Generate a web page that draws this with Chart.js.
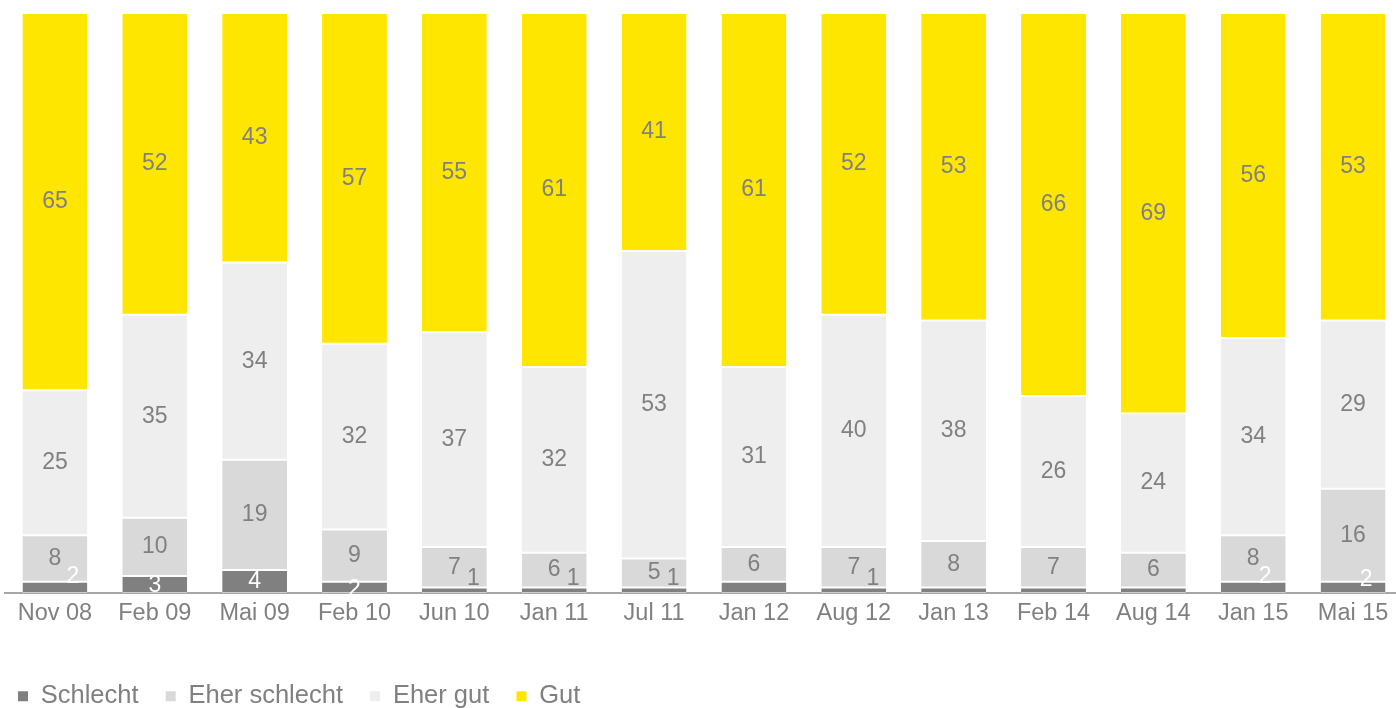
<!DOCTYPE html>
<html>
<head>
<meta charset="utf-8">
<script src="https://cdn.jsdelivr.net/npm/chart.js@4.4.1/dist/chart.umd.min.js"></script>
<style>
  html, body { margin: 0; padding: 0; background: #fff; overflow: hidden; }
  #wrap { width: 1396px; height: 708px; overflow: hidden; }
</style>
</head>
<body>
<div id="wrap"><canvas id="chart" width="1410" height="719"></canvas></div>
<script>
// Data (percent)
const categories = ['Nov 08', 'Feb 09', 'Mai 09', 'Feb 10', 'Jun 10', 'Jan 11', 'Jul 11',
                    'Jan 12', 'Aug 12', 'Jan 13', 'Feb 14', 'Aug 14', 'Jan 15', 'Mai 15'];
const schlecht     = [2, 3, 4, 2, 1, 1, 1, 2, 1, 1, 1, 1, 2, 2];
const eherSchlecht = [8, 10, 19, 9, 7, 6, 5, 6, 7, 8, 7, 6, 8, 16];
const eherGut      = [25, 35, 34, 32, 37, 32, 53, 31, 40, 38, 26, 24, 34, 29];
const gut          = [65, 52, 43, 57, 55, 61, 41, 61, 52, 53, 66, 69, 56, 53];

const GREY_TEXT = '#808080';
const FONT = '"Liberation Sans", Arial, sans-serif';

// Label tweaks for the small "Schlecht" segments (as in the original slide)
const schlechtLabelStyle = {
  'Nov 08': { dx: 18, dy: -11, color: '#fff' },
  'Feb 09': { dx: 0, dy: 1, color: '#fff' },
  'Mai 09': { dx: 0, dy: 0, color: '#fff' },
  'Feb 10': { dx: 0, dy: 2, color: '#fff' },
  'Jun 10': { dx: 19, dy: -12, color: GREY_TEXT },
  'Jan 11': { dx: 19, dy: -12, color: GREY_TEXT },
  'Jul 11': { dx: 19, dy: -12, color: GREY_TEXT },
  'Aug 12': { dx: 19, dy: -12, color: GREY_TEXT },
  'Jan 15': { dx: 12, dy: -11, color: '#fff' },
  'Mai 15': { dx: 13, dy: -8, color: '#fff' }
};

function makeSet(label, data, color) {
  return {
    label: label,
    data: data,
    backgroundColor: color,
    borderColor: '#ffffff',
    borderWidth: { top: 1, bottom: 1, left: 0, right: 0 },
    borderSkipped: false,
    barPercentage: 0.65,
    categoryPercentage: 1
  };
}

const barLabels = {
  id: 'barLabels',
  afterDatasetsDraw(chart) {
    const ctx = chart.ctx;
    ctx.save();
    ctx.font = '23px ' + FONT;
    ctx.textAlign = 'center';
    ctx.textBaseline = 'middle';
    chart.data.datasets.forEach((ds, di) => {
      const meta = chart.getDatasetMeta(di);
      meta.data.forEach((bar, i) => {
        const v = ds.data[i];
        let x = bar.x;
        let y = (bar.y + bar.base) / 2;
        let color = GREY_TEXT;
        if (di === 0) {
          const st = schlechtLabelStyle[categories[i]];
          if (!st) return;
          x += st.dx; y += st.dy; color = st.color;
        }
        ctx.fillStyle = color;
        ctx.fillText(String(v), x, y);
      });
    });
    ctx.restore();
  }
};

new Chart(document.getElementById('chart'), {
  type: 'bar',
  data: {
    labels: categories,
    datasets: [
      makeSet('Schlecht', schlecht, '#808080'),
      makeSet('Eher schlecht', eherSchlecht, '#d9d9d9'),
      makeSet('Eher gut', eherGut, '#eeeeee'),
      makeSet('Gut', gut, '#ffe600')
    ]
  },
  options: {
    responsive: false,
    animation: false,
    layout: { padding: { left: 5, right: 7, top: 13, bottom: 0 } },
    scales: {
      x: {
        stacked: true,
        grid: { display: false },
        border: { display: true, color: '#a6a6a6', width: 2 },
        ticks: { color: GREY_TEXT, font: { family: FONT, size: 23.5 }, padding: -2, maxRotation: 0, autoSkip: false },
        afterFit(scale) { scale.height += 45; }
      },
      y: { stacked: true, display: false, min: 0, max: 100 }
    },
    plugins: {
      tooltip: { enabled: false },
      legend: {
        position: 'bottom',
        align: 'start',
        labels: {
          color: GREY_TEXT,
          font: { family: FONT, size: 25.5 },
          boxWidth: 10,
          boxHeight: 10,
          padding: 13,
          generateLabels(chart) {
            return Chart.defaults.plugins.legend.labels.generateLabels(chart).map(it => {
              it.text = it.text + '  ';
              it.strokeStyle = it.fillStyle;
              it.lineWidth = 0;
              return it;
            });
          }
        }
      }
    }
  },
  plugins: [barLabels]
});
</script>
</body>
</html>
